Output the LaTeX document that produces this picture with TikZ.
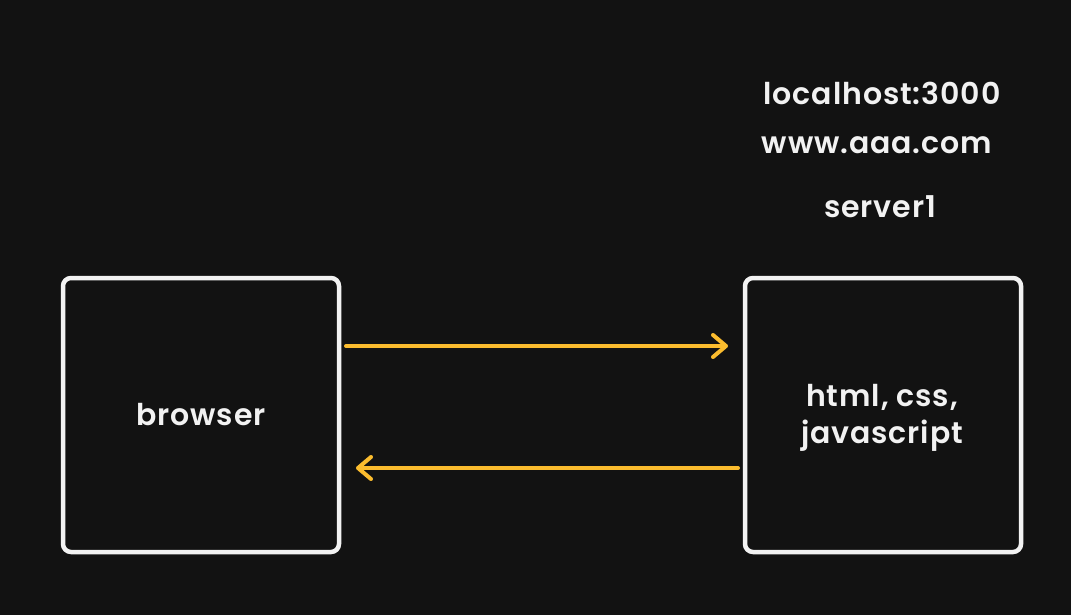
\documentclass[tikz,border=0pt]{standalone}
\usepackage{fontspec}
\setmainfont{Poppins}[BoldFont={Poppins SemiBold}, LetterSpace=3]
\usetikzlibrary{arrows.meta}
\definecolor{bgc}{HTML}{121212}
\definecolor{boxc}{HTML}{F2F2F2}
\definecolor{arrc}{HTML}{FBBC2E}
\tikzset{
  boxnode/.style={draw=boxc, line width=4.5pt, rounded corners=8pt, fill=bgc, minimum width=276pt, minimum height=274pt, inner sep=0pt},
  lbl/.style={text=boxc, font=\fontsize{30}{37}\selectfont\bfseries, inner sep=0pt, align=center},
  flow/.style={draw=arrc, line width=4pt, line cap=round, -{Straight Barb[length=13pt, width=22pt, line width=4pt, round]}}
}
\begin{document}
\begin{tikzpicture}[x=1pt, y=-1pt]
\fill[bgc] (0,0) rectangle (1071,615);
\useasboundingbox (0,0) rectangle (1071,615);
\node[boxnode] (browser) at (201,415) {};
\node[boxnode] (server) at (883,415) {};
\node[lbl] (browsertxt) at (201,415) {browser};
\node[lbl] (servertxt) at (882,418) {html, css,\\javascript};
\node[lbl] (local) at (882,93) {localhost:3000};
\node[lbl] (www) at (877,145) {www.aaa.com};
\node[lbl] (srvname) at (880,207) {server1};
\coordinate (a1s) at (346,346);
\coordinate (a1e) at (728,346);
\coordinate (a2s) at (738,468);
\coordinate (a2e) at (356,468);
\draw[flow] (a1s) -- (a1e);
\draw[flow] (a2s) -- (a2e);
\end{tikzpicture}
\end{document}
